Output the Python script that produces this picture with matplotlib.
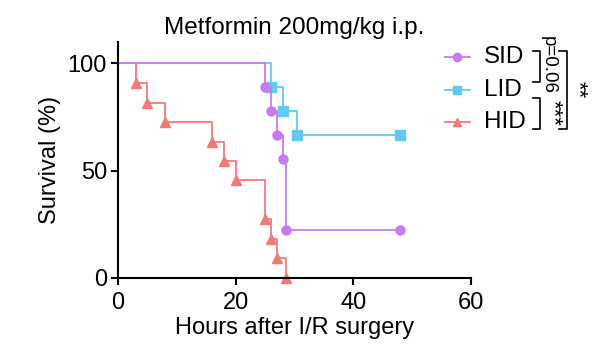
import matplotlib
matplotlib.use('Agg')
import matplotlib.pyplot as plt
from matplotlib.lines import Line2D

plt.rcParams['font.family'] = ['Liberation Sans', 'DejaVu Sans']

# survival data (hours, percent survival)
sid_t = [0, 25, 26, 27, 28, 28.5, 48]
sid_s = [100, 88.9, 77.8, 66.7, 55.6, 22.2, 22.2]
lid_t = [0, 26, 28, 30.5, 48]
lid_s = [100, 88.9, 77.8, 66.7, 66.7]
hid_t = [0, 3, 5, 8, 16, 18, 20, 25, 26, 27, 28.5]
hid_s = [100, 90.9, 81.8, 72.7, 63.6, 54.5, 45.5, 27.3, 18.2, 9.1, 0]

groups = ['SID', 'LID', 'HID']
colors = ['#C97AF2', '#62C9F3', '#F37A78']
markers = ['o', 's', '^']

W, H = 603, 356
fig = plt.figure(figsize=(W / 100, H / 100), dpi=100)
ax = fig.add_axes([118 / W, 1 - 278 / H, (471 - 118) / W, (278 - 42) / H])


def px(x, y):
    return x / W, 1 - y / H


data = [(sid_t, sid_s), (lid_t, lid_s), (hid_t, hid_s)]
for i in [1, 2, 0]:
    t, s = data[i]
    ax.step(t, s, where='post', color=colors[i], lw=1.3)
    ax.plot(t[1:], s[1:], ls='none', marker=markers[i], color=colors[i],
            ms=6.5, clip_on=False)

ax.set_xlim(0, 60)
ax.set_ylim(0, 110)
ax.set_xticks([0, 20, 40, 60])
ax.set_yticks([0, 50, 100])
ax.spines['top'].set_visible(False)
ax.spines['right'].set_visible(False)
for sp in ['left', 'bottom']:
    ax.spines[sp].set_linewidth(1.5)
ax.tick_params(width=1.5, length=5, labelsize=17)
ax.tick_params(axis='x', pad=5)
ax.tick_params(axis='y', pad=3)
ax.set_xlabel('Hours after I/R surgery', fontsize=17, labelpad=2)
ax.set_ylabel('Survival (%)', fontsize=17, labelpad=5)
ax.set_title('Metformin 200mg/kg i.p.', fontsize=17.5, pad=6)

# legend drawn by hand
for i, y in enumerate([57, 90, 122]):
    x0, yy = px(445, y)
    x1, _ = px(470, y)
    fig.add_artist(Line2D([x0, x1], [yy, yy], color=colors[i], lw=1.3))
    fig.add_artist(Line2D([(x0 + x1) / 2], [yy], marker=markers[i],
                          color=colors[i], ms=6))
    fig.text(px(484, y)[0], yy, groups[i], fontsize=17.5, va='center', ha='left')


def bracket(xa, xb, ya, yb):
    xs = [xa, xb, xb, xa]
    ys = [ya, ya, yb, yb]
    pts = [px(x, y) for x, y in zip(xs, ys)]
    fig.add_artist(Line2D([p[0] for p in pts], [p[1] for p in pts],
                          color='black', lw=1.2))


bracket(533, 540, 51, 82)
bracket(533, 540, 98, 129)
bracket(559, 567, 51, 129)
fig.text(*px(548, 65), 'p=0.06', fontsize=13.5, rotation=270, ha='center', va='center')
fig.text(*px(553, 113), '***', fontsize=16, rotation=270, ha='center', va='center')
fig.text(*px(578, 90), '**', fontsize=16, rotation=270, ha='center', va='center')

fig.savefig('out.png', dpi=100)
